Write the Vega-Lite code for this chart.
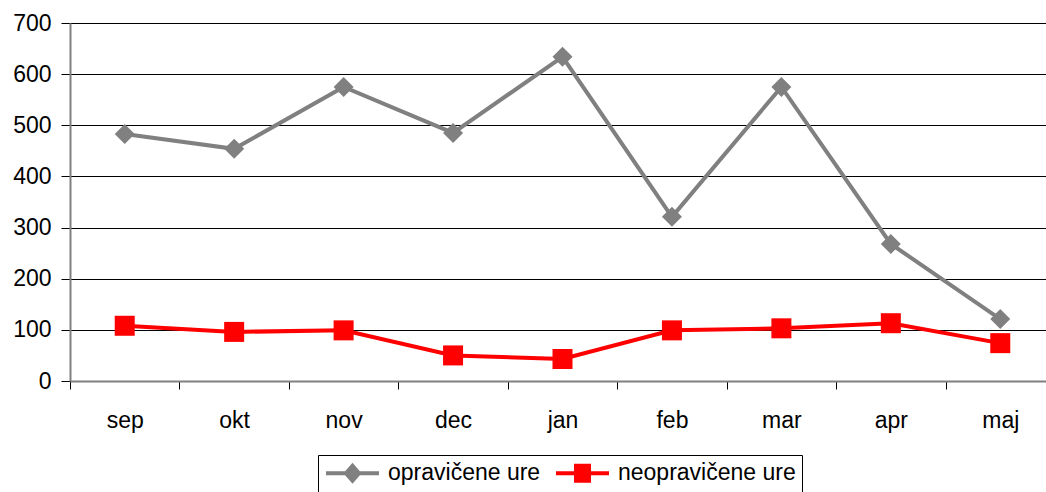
{
  "$schema": "https://vega.github.io/schema/vega-lite/v6.json",
  "autosize": {"type": "none"},
  "padding": {"left": 70, "top": 23, "right": 0, "bottom": 111},
  "width": 985,
  "height": 358,
  "background": "white",
  "config": {
    "view": {"stroke": null},
    "font": "Liberation Sans"
  },
  "data": {
    "values": [
      {"mesec": "sep", "vrsta": "opravičene ure", "ure": 483},
      {"mesec": "okt", "vrsta": "opravičene ure", "ure": 454},
      {"mesec": "nov", "vrsta": "opravičene ure", "ure": 575},
      {"mesec": "dec", "vrsta": "opravičene ure", "ure": 485},
      {"mesec": "jan", "vrsta": "opravičene ure", "ure": 634},
      {"mesec": "feb", "vrsta": "opravičene ure", "ure": 321},
      {"mesec": "mar", "vrsta": "opravičene ure", "ure": 575},
      {"mesec": "apr", "vrsta": "opravičene ure", "ure": 268},
      {"mesec": "maj", "vrsta": "opravičene ure", "ure": 121},
      {"mesec": "sep", "vrsta": "neopravičene ure", "ure": 108},
      {"mesec": "okt", "vrsta": "neopravičene ure", "ure": 96},
      {"mesec": "nov", "vrsta": "neopravičene ure", "ure": 99},
      {"mesec": "dec", "vrsta": "neopravičene ure", "ure": 50},
      {"mesec": "jan", "vrsta": "neopravičene ure", "ure": 43},
      {"mesec": "feb", "vrsta": "neopravičene ure", "ure": 99},
      {"mesec": "mar", "vrsta": "neopravičene ure", "ure": 103},
      {"mesec": "apr", "vrsta": "neopravičene ure", "ure": 113},
      {"mesec": "maj", "vrsta": "neopravičene ure", "ure": 74}
    ]
  },
  "encoding": {
    "x": {
      "field": "mesec",
      "type": "ordinal",
      "sort": ["sep", "okt", "nov", "dec", "jan", "feb", "mar", "apr", "maj"],
      "scale": {"paddingInner": 0, "paddingOuter": 0},
      "axis": {
        "title": null,
        "labelAngle": 0,
        "labelFontSize": 23,
        "labelColor": "#000",
        "labelPadding": 20,
        "tickBand": "extent",
        "tickSize": 8,
        "tickColor": "#000",
        "domainColor": "#808080",
        "domainWidth": 2,
        "grid": false
      }
    },
    "y": {
      "field": "ure",
      "type": "quantitative",
      "scale": {"domain": [0, 700], "nice": false},
      "axis": {
        "title": null,
        "values": [0, 100, 200, 300, 400, 500, 600, 700],
        "labelFontSize": 23,
        "labelColor": "#000",
        "labelPadding": 10,
        "tickSize": 9,
        "tickColor": "#000",
        "domainColor": "#808080",
        "domainWidth": 2,
        "grid": true,
        "gridColor": "#000",
        "gridWidth": 1
      }
    },
    "color": {
      "field": "vrsta",
      "type": "nominal",
      "scale": {"domain": ["opravičene ure", "neopravičene ure"], "range": ["#808080", "#FF0000"]},
      "legend": {
        "title": null,
        "orient": "none",
        "legendX": 248,
        "legendY": 432,
        "direction": "horizontal",
        "columns": 2,
        "padding": 6,
        "strokeColor": "#000",
        "labelFontSize": 23,
        "labelColor": "#000",
        "labelLimit": 400,
        "labelOffset": 40,
        "columnPadding": 7,
        "symbolSize": 400,
        "symbolStrokeWidth": 4,
        "encode": {
          "symbols": {
            "update": {
              "shape": {"signal": "datum.value === 'opravičene ure' ? 'M-1,0H4.3M1.65,-0.75L2.3,0L1.65,0.75L1,0Z' : 'M-1,0H4.3M1,-0.75H2.3V0.75H1Z'"},
              "fill": {"scale": "color", "field": "value"},
              "stroke": {"scale": "color", "field": "value"},
              "strokeWidth": {"value": 4}
            }
          }
        }
      }
    }
  },
  "layer": [
    {
      "mark": {"type": "line", "strokeWidth": 4}
    },
    {
      "transform": [{"filter": "datum.vrsta === 'opravičene ure'"}],
      "mark": {"type": "point", "filled": true, "opacity": 1, "size": 400, "shape": "diamond"}
    },
    {
      "transform": [{"filter": "datum.vrsta === 'neopravičene ure'"}],
      "mark": {"type": "point", "filled": true, "opacity": 1, "size": 400, "shape": "square"}
    }
  ]
}
